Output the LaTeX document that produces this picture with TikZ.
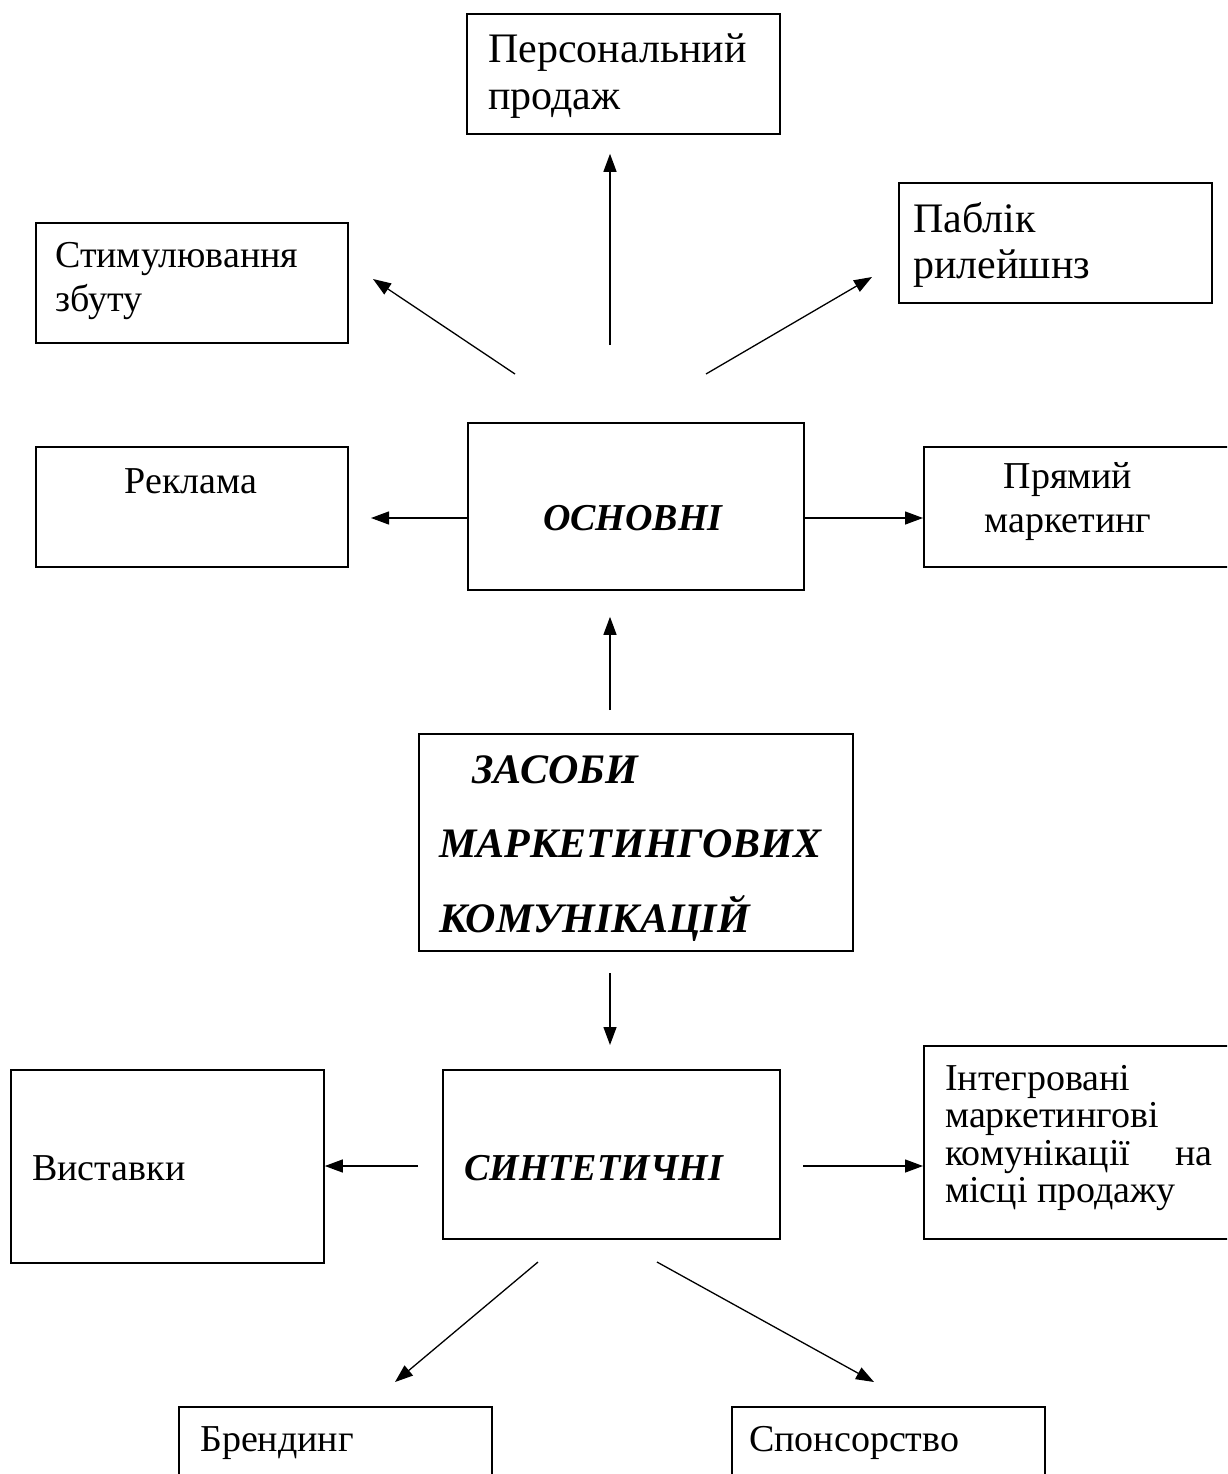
\documentclass[tikz,border=0pt]{standalone}
\usepackage{fontspec}
\setmainfont{Liberation Serif}
\usetikzlibrary{arrows.meta,calc}
\tikzset{
  box/.style={draw, line width=1.8pt, inner sep=0pt, anchor=north west},
  txt/.style={inner sep=0pt, anchor=base west, font=\fontsize{38}{44}\selectfont},
  txtc/.style={txt, anchor=base},
  big/.style={txt, font=\fontsize{42}{47}\selectfont},
  bi/.style={txt, font=\fontsize{38}{44}\selectfont\bfseries\itshape},
  bibig/.style={txt, font=\fontsize{42}{47}\selectfont\bfseries\itshape},
  arr/.style={line width=1.3pt, -{Triangle[length=18pt,width=13pt]}}
}
\begin{document}
\begin{tikzpicture}[x=1pt,y=-1pt]
\useasboundingbox (0,0) rectangle (1227,1474);
\fill[white] (0,0) rectangle (1227,1474);
\clip (0,0) rectangle (1227,1474);

% boxes
\node[box, minimum width=313pt, minimum height=120pt] (pp) at (466,13) {};
\node[box, minimum width=312pt, minimum height=120pt] (sz) at (35,222) {};
\node[box, minimum width=313pt, minimum height=120pt] (pr) at (898,182) {};
\node[box, minimum width=312pt, minimum height=120pt] (rk) at (35,446) {};
\node[box, minimum width=336pt, minimum height=167pt] (osn) at (467,422) {};
\node[box, minimum width=320pt, minimum height=120pt] (pm) at (923,446) {};
\node[box, minimum width=434pt, minimum height=217pt] (zm) at (418,733) {};
\node[box, minimum width=313pt, minimum height=193pt] (vs) at (10,1069) {};
\node[box, minimum width=337pt, minimum height=169pt] (sy) at (442,1069) {};
\node[box, minimum width=320pt, minimum height=193pt] (im) at (923,1045) {};
\node[box, minimum width=313pt, minimum height=100pt] (br) at (178,1406) {};
\node[box, minimum width=313pt, minimum height=100pt] (sp) at (731,1406) {};

% texts
\node[big] (pp1) at (488,63) {Персональний};
\node[big] (pp2) at (488,110) {продаж};
\node[txt] (sz1) at (55,267) {Стимулювання};
\node[txt] (sz2) at (55,311) {збуту};
\node[big] (pr1) at (913,232) {Паблік};
\node[big] (pr2) at (913,278) {рилейшнз};
\node[txtc] (rk1) at (191,493) {Реклама};
\node[bi] (osn1) at (543,530) {ОСНОВНІ};
\node[txtc] (pm1) at (1068,488) {Прямий};
\node[txtc] (pm2) at (1068,532) {маркетинг};
\node[bibig] (zm1) at (472,783) {ЗАСОБИ};
\node[bibig] (zm2) at (439,857) {МАРКЕТИНГОВИХ};
\node[bibig] (zm3) at (439,932) {КОМУНІКАЦІЙ};
\node[txt] (vs1) at (32,1180) {Виставки};
\node[bi] (sy1) at (464,1180) {СИНТЕТИЧНІ};
\node[txt] (im1) at (945,1090) {Інтегровані};
\node[txt] (im2) at (945,1127) {маркетингові};
\node[txt] (im3) at (945,1165) {\makebox[267pt][l]{комунікації\hfill на}};
\node[txt] (im4) at (945,1202) {місці продажу};
\node[txt] (br1) at (200,1451) {Брендинг};
\node[txt] (sp1) at (749,1451) {Спонсорство};

% connector free ends
\coordinate (a1) at (610,345);
\coordinate (a2s) at (515,374);
\coordinate (a2e) at (373,279);
\coordinate (a3s) at (706,374);
\coordinate (a3e) at (872,277);
\coordinate (a4) at (371,518);
\coordinate (a5) at (803,518);
\coordinate (a6) at (610,710);
\coordinate (a7) at (610,973);
\coordinate (a8) at (418,1166);
\coordinate (a9) at (803,1166);
\coordinate (a10s) at (538,1262);
\coordinate (a10e) at (395,1382);
\coordinate (a11s) at (657,1262);
\coordinate (a11e) at (874,1382);

% connectors
\draw[arr, shorten >=19pt] (a1) -- (a1 |- pp.south);
\draw[arr] (a2s) -- (a2e);
\draw[arr] (a3s) -- (a3e);
\draw[arr] (osn.west |- a4) -- (a4);
\draw[arr] (a5) -- (pm.west |- a5);
\draw[arr, shorten >=26pt] (a6) -- (a6 |- osn.south);
\draw[arr, shorten >=24pt] (a7) -- (a7 |- sy.north);
\draw[arr] (a8) -- (vs.east |- a8);
\draw[arr] (a9) -- (im.west |- a9);
\draw[arr] (a10s) -- (a10e);
\draw[arr] (a11s) -- (a11e);
\end{tikzpicture}
\end{document}
